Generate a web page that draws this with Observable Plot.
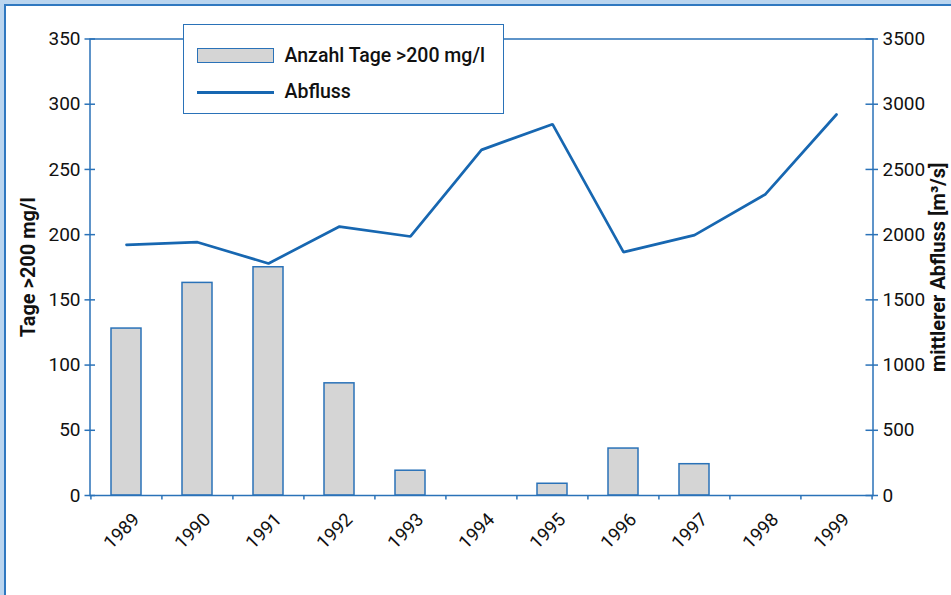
<!DOCTYPE html>
<html>
<head>
<meta charset="utf-8">
<script src="https://cdn.jsdelivr.net/npm/d3@7"></script>
<script src="https://cdn.jsdelivr.net/npm/@observablehq/plot@0.6"></script>
<style>
  html, body { margin: 0; padding: 0; background: #fff; overflow: hidden; }
  #wrap { position: relative; width: 951px; height: 595px; font-family: Roboto, "Open Sans", sans-serif; }
  #chart svg { display: block; }
  .fr { position: absolute; z-index: 5; pointer-events: none; }
  #legend { position: absolute; z-index: 4; left: 182.5px; top: 24px; width: 321px; height: 89.5px;
            box-sizing: border-box; border: 1.5px solid #2a72b8; background: #fff; }
  #legend .sw { position: absolute; box-sizing: border-box; }
  #legend .lt { position: absolute; font-size: 19.5px; line-height: 19.5px; font-weight: 500; color: #111; white-space: nowrap; }
</style>
</head>
<body>
<div id="wrap">
  <div class="fr" style="left:0;top:0;width:951px;height:4px;background:#bad5ef;"></div>
  <div class="fr" style="left:4px;top:4px;width:947px;height:1.5px;background:#2f78c0;"></div>
  <div class="fr" style="left:0;top:0;width:4px;height:595px;background:#bad5ef;"></div>
  <div class="fr" style="left:4px;top:4px;width:1.5px;height:591px;background:#2f78c0;"></div>
  <div id="chart"></div>
  <div id="legend">
    <div class="sw" id="sw1"></div>
    <div class="sw" id="sw2"></div>
    <div class="lt" id="lt1"></div>
    <div class="lt" id="lt2"></div>
  </div>
</div>
<script>
// ---- data ----
const years = ["1989","1990","1991","1992","1993","1994","1995","1996","1997","1998","1999"];
const tage = [128, 163, 175, 86, 19, 0, 9, 36, 24, 0, 0];          // Anzahl Tage >200 mg/l
const abfluss = [1922, 1942, 1779, 2062, 1986, 2650, 2847, 1866, 1996, 2310, 2921]; // m³/s
const leftTicks = [0, 50, 100, 150, 200, 250, 300, 350];
const rightTicks = [0, 500, 1000, 1500, 2000, 2500, 3000, 3500];
const seriesNames = ["Anzahl Tage >200 mg/l", "Abfluss"];
const leftTitle = "Tage >200 mg/l";
const rightTitle = "mittlerer Abfluss [m³/s]";

// ---- styling ----
const BLUE = "#2a72b8";
const LINE = "#1767b1";
const BARFILL = "#d5d5d5";
const W = 951, H = 595, ML = 89.5, MR = 78.5, MT = 38.5, MB = 100;
const ratio = 10; // right axis = left axis * 10
const step = (W - ML - MR) / years.length;

const rows = years.map((y, i) => ({year: y, tage: tage[i], abfluss: abfluss[i]}));

const chart = Plot.plot({
  width: W, height: H,
  marginLeft: ML, marginRight: MR, marginTop: MT, marginBottom: MB,
  style: {fontFamily: "Roboto, 'Open Sans', sans-serif", fontSize: "19px", color: "#111", background: "transparent", overflow: "visible"},
  x: {type: "band", domain: years, paddingInner: 0.58, paddingOuter: 0.29, axis: null, label: null},
  y: {domain: [0, 350], axis: null, label: null},
  marks: [
    Plot.barY(rows.filter(d => d.tage > 0), {x: "year", y: "tage", fill: BARFILL, stroke: BLUE, strokeWidth: 1.5}),
    Plot.line(rows, {x: "year", y: d => d.abfluss / ratio, stroke: LINE, strokeWidth: 2.7, strokeLinejoin: "miter"}),
    Plot.frame({stroke: BLUE, strokeWidth: 1.5}),
    // left axis
    Plot.axisY({anchor: "left", ticks: leftTicks, tickSize: 10.5, dx: 5.5, text: null, label: null, stroke: BLUE, strokeWidth: 1.5}),
    Plot.axisY({anchor: "left", ticks: leftTicks, tickSize: 0, tickPadding: 9.5, label: null, fill: "#111", fontSize: 19, tickFormat: d => String(d)}),
    // right axis
    Plot.axisY({anchor: "right", ticks: rightTicks.map(v => v / ratio), tickSize: 12.5, dx: -8, text: null, label: null, stroke: BLUE, strokeWidth: 1.5}),
    Plot.axisY({anchor: "right", ticks: rightTicks.map(v => v / ratio), tickSize: 0, tickPadding: 9.5, label: null, fill: "#111", fontSize: 19, tickFormat: d => String(d * ratio)}),
    // bottom axis: ticks at category boundaries
    Plot.axisX({anchor: "bottom", ticks: years, tickSize: 4.5, dx: -step / 2, text: null, label: null, stroke: BLUE, strokeWidth: 1.5}),
    Plot.axisX({anchor: "bottom", ticks: [years[years.length - 1]], tickSize: 4.5, dx: step / 2, text: null, label: null, stroke: BLUE, strokeWidth: 1.5}),
    Plot.axisX({anchor: "bottom", ticks: years, tickSize: 0, tickPadding: 21, tickRotate: -45, dx: 10, label: null, fill: "#111", fontSize: 18.5}),
    // axis titles
    Plot.text([leftTitle], {text: d => d, frameAnchor: "left", textAnchor: "middle", rotate: -90, dx: -61.5, fontWeight: "bold", fontSize: 20, fill: "#111"}),
    Plot.text([rightTitle], {text: d => d, frameAnchor: "right", textAnchor: "middle", rotate: -90, dx: 66, fontWeight: "bold", fontSize: 20, fill: "#111"})
  ]
});
document.getElementById("chart").appendChild(chart);

// legend
const sw1 = document.getElementById("sw1");
Object.assign(sw1.style, {left: "13px", top: "22.5px", width: "77px", height: "15.5px", background: BARFILL, border: `1.5px solid ${BLUE}`});
const sw2 = document.getElementById("sw2");
Object.assign(sw2.style, {left: "13px", top: "65.5px", width: "77px", height: "3px", background: LINE});
const lt1 = document.getElementById("lt1");
lt1.textContent = seriesNames[0];
Object.assign(lt1.style, {left: "101px", top: "21px"});
const lt2 = document.getElementById("lt2");
lt2.textContent = seriesNames[1];
Object.assign(lt2.style, {left: "101px", top: "57px"});
</script>
</body>
</html>
